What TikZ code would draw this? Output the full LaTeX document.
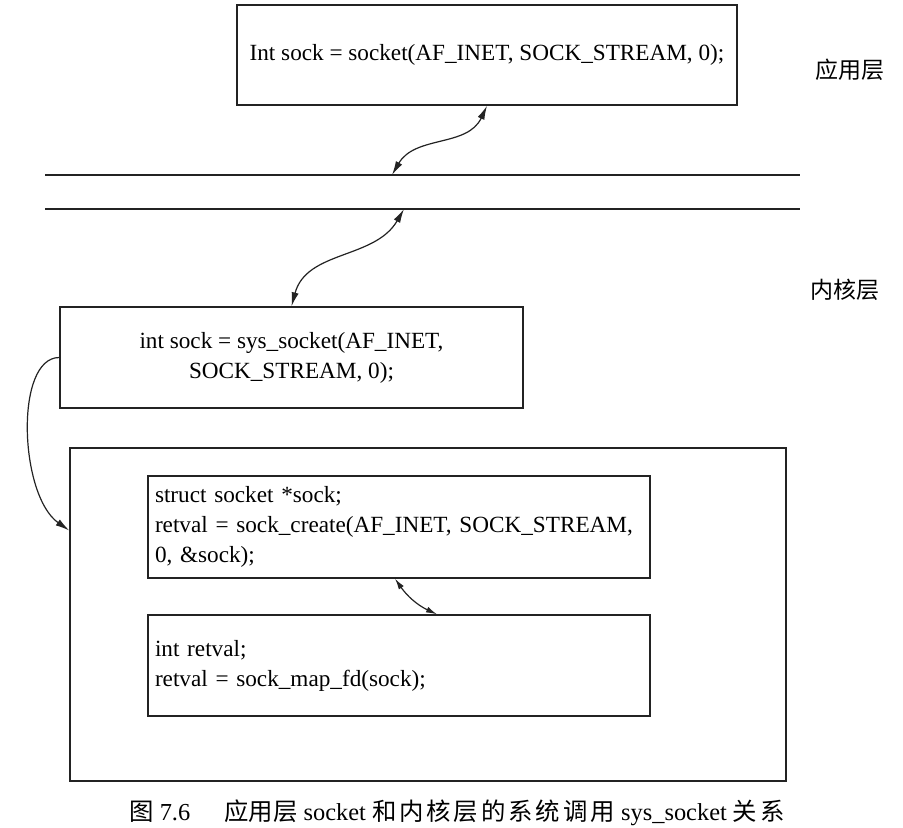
\documentclass[tikz,border=0pt]{standalone}
\usepackage{fontspec}
\setmainfont{Liberation Serif}
\newfontfamily\cjk{Noto Sans CJK SC}
\newfontfamily\cjkwide[LetterSpace=12]{Noto Sans CJK SC}
\usetikzlibrary{arrows.meta,positioning,calc}
\definecolor{inkgray}{RGB}{35,35,35}
\newcommand{\codefont}{\fontsize{11.6}{15}\selectfont}
\newcommand{\layertag}[3]{\node[font=\cjk\fontsize{11.5}{14}\selectfont] (#1) at #2 {#3};}

\begin{document}
\begin{tikzpicture}[x=0.5pt,y=-0.5pt,
	codebox/.style={draw=inkgray,line width=0.7pt,rectangle,inner sep=0pt,font=\codefont},
	twoway/.style={{Latex[length=7pt,width=3.6pt]}-{Latex[length=7pt,width=3.6pt]},line width=0.6pt,draw=inkgray},
	oneway/.style={-{Latex[length=7pt,width=3.6pt]},line width=0.6pt,draw=inkgray}]
		\useasboundingbox (0,0) rectangle (903,828);
		% user space
		\node[codebox,minimum width=250pt,minimum height=50pt] (app) at (487,55) {Int sock = socket(AF\_INET, SOCK\_STREAM, 0);};
		\layertag{usr}{(850,70)}{应用层}
		% boundary
		\coordinate (b1w) at (45,175); \coordinate (b1e) at (800,175);
		\coordinate (b2w) at (45,209); \coordinate (b2e) at (800,209);
		\coordinate (b1x) at (392,175); \coordinate (b2x) at (404,209);
		\draw[line width=0.7pt,inkgray] (b1w) -- (b1e);
		\draw[line width=0.7pt,inkgray] (b2w) -- (b2e);
		\layertag{krn}{(845,290)}{内核层}
		% kernel space
		\node[codebox,align=center,minimum width=231.5pt,minimum height=50.5pt] (sys) at (291.5,357.5) {int sock = sys\_socket(AF\_INET,\\SOCK\_STREAM, 0);};
		\node[codebox,minimum width=358pt,minimum height=166.5pt] (kern) at (428,614.5) {};
		\node[codebox,minimum width=251pt,minimum height=51pt,text width=244pt,align=left] (create) at (399,527) {struct socket *sock;\\retval = sock\_create(AF\_INET, SOCK\_STREAM,\\0, \&sock);};
		\node[codebox,minimum width=251pt,minimum height=50.5pt,text width=244pt,align=left] (mapfd) at (399,665.5) {int retval;\\retval = sock\_map\_fd(sock);};
		% calls
		\draw[twoway] (app.south) to[out=-115,in=60] (b1x);
		\draw[twoway] (b2x) to[out=-120,in=75] (sys.north);
		\draw[oneway] (sys.west) .. controls +(-45,0) and +(-50,-35) .. ([yshift=42pt]kern.west);
		\draw[twoway,{Latex[length=5.5pt,width=3pt]}-{Latex[length=5.5pt,width=3pt]}] ([xshift=-2pt]create.south) to[out=-55,in=155] ([xshift=19pt]mapfd.north);
		\node[font=\fontsize{12.2}{14}\selectfont] (cap) at (457,813) {{\cjk 图} 7.6\hspace{17pt}{\cjk 应用层} socket {\cjkwide 和内核层的系统调用} sys\_socket {\cjkwide 关系}};
\end{tikzpicture}
\end{document}
